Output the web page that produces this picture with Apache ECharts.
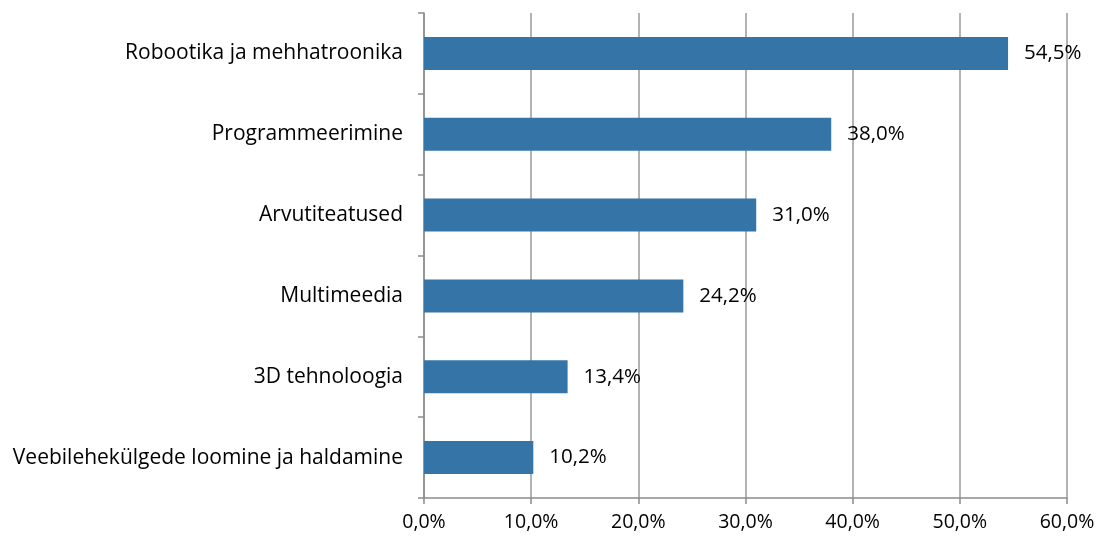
<!DOCTYPE html>
<html>
<head>
<meta charset="utf-8">
<script src="https://cdn.jsdelivr.net/npm/echarts@6/dist/echarts.min.js"></script>
<style>
  html, body { margin: 0; padding: 0; background: #fff; }
  #chart { width: 1101px; height: 541px; }
</style>
</head>
<body>
<div id="chart"></div>
<script>
// andmed (ülevalt alla)
var categories = [
  "Robootika ja mehhatroonika",
  "Programmeerimine",
  "Arvutiteatused",
  "Multimeedia",
  "3D tehnoloogia",
  "Veebilehekülgede loomine ja haldamine"
];
var values = [54.5, 38.0, 31.0, 24.2, 13.4, 10.2];
var xTicks = [0, 10, 20, 30, 40, 50, 60];

function pct(v) {
  return v.toFixed(1).replace(".", ",") + "%";
}

var chart = echarts.init(document.getElementById("chart"));
var axisGray = "#8c8c8c";
chart.setOption({
  animation: false,
  textStyle: { fontFamily: "Open Sans", color: "#000" },
  grid: { left: 424, right: 34, top: 13, bottom: 43, containLabel: false },
  xAxis: {
    type: "value",
    min: xTicks[0],
    max: xTicks[xTicks.length - 1],
    interval: 10,
    axisLine: { show: true, lineStyle: { color: axisGray, width: 1.5 } },
    axisTick: { show: true, length: 6, lineStyle: { color: axisGray, width: 1.5 } },
    splitLine: { show: true, lineStyle: { color: "#9a9a9a", width: 1.5 } },
    axisLabel: {
      fontSize: 19.5, color: "#000", margin: 14,
      formatter: function (v) { return pct(v); }
    }
  },
  yAxis: {
    type: "category",
    inverse: true,
    data: categories,
    axisLine: { show: true, lineStyle: { color: axisGray, width: 1.5 } },
    axisTick: { show: true, length: 6, lineStyle: { color: axisGray, width: 1.5 } },
    axisLabel: { fontSize: 21, color: "#000", margin: 21 }
  },
  series: [{
    type: "bar",
    data: values,
    barWidth: 33,
    itemStyle: { color: "#3574a6" },
    label: {
      show: true,
      position: "right",
      distance: 16,
      fontSize: 20.5,
      color: "#000",
      formatter: function (p) { return pct(p.value); }
    }
  }]
});
</script>
</body>
</html>
